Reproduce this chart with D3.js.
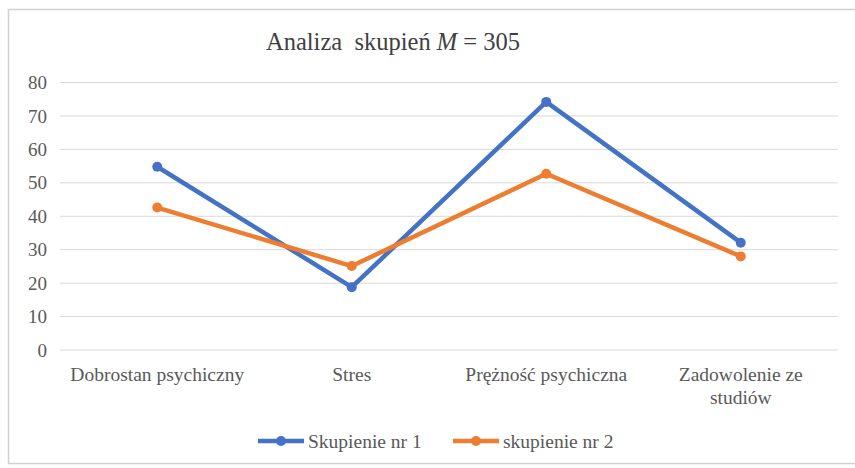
<!DOCTYPE html>
<html>
<head>
<meta charset="utf-8">
<script src="https://cdn.jsdelivr.net/npm/d3@7"></script>
<style>
  html, body { margin: 0; padding: 0; background: #fff; }
  svg { display: block; }
</style>
</head>
<body>
<svg width="855" height="468"></svg>
<script>
// chart data
const categories = ["Dobrostan psychiczny", "Stres", "Prężność psychiczna", "Zadowolenie ze studiów"];
const seriesNames = ["Skupienie nr 1", "skupienie nr 2"];
const cluster1 = [54.8, 18.8, 74.2, 32.1];
const cluster2 = [42.6, 25.1, 52.7, 28.0];
const yTicks = [0, 10, 20, 30, 40, 50, 60, 70, 80];
const colors = ["#4472C4", "#ED7D31"];

const width = 855, height = 468;
const margin = { top: 82.5, right: 17, bottom: 118, left: 60 };
const serif = "Liberation Serif, Times New Roman, serif";

const svg = d3.select("svg").attr("font-family", serif);

// outer frame
svg.append("rect")
  .attr("x", 8.5).attr("y", 9.5)
  .attr("width", 860).attr("height", 454)
  .attr("fill", "#fff")
  .attr("stroke", "#d0d0d0")
  .attr("stroke-width", 1.5);

const x = d3.scaleBand()
  .domain(categories)
  .range([margin.left, width - margin.right]);

const y = d3.scaleLinear()
  .domain([0, 80])
  .range([height - margin.bottom, margin.top]);

// gridlines
svg.append("g")
  .selectAll("line")
  .data(yTicks)
  .join("line")
  .attr("x1", margin.left)
  .attr("x2", width - margin.right)
  .attr("y1", d => y(d))
  .attr("y2", d => y(d))
  .attr("stroke", "#d9d9d9")
  .attr("stroke-width", 1);

// y axis labels
const yAxis = svg.append("g")
  .attr("transform", `translate(${margin.left - 13},0)`)
  .call(d3.axisLeft(y).tickValues(yTicks).tickSize(0).tickPadding(0));
yAxis.attr("font-family", serif).attr("font-size", 19);
yAxis.select(".domain").remove();
yAxis.selectAll("text").attr("fill", "#595959");

// x axis labels (wrapped like the original)
const xAxis = svg.append("g")
  .attr("transform", `translate(0,${height - margin.bottom})`)
  .call(d3.axisBottom(x).tickSize(0).tickPadding(0).tickFormat(""));
xAxis.attr("font-family", serif).attr("font-size", 19.5);
xAxis.select(".domain").remove();
const wraps = { "Zadowolenie ze studiów": ["Zadowolenie ze", "studiów"] };
xAxis.selectAll(".tick").each(function (d) {
  const lines = wraps[d] || [d];
  const t = d3.select(this).append("text")
    .attr("fill", "#595959")
    .attr("text-anchor", "middle");
  lines.forEach((l, i) => {
    t.append("tspan").attr("x", 0).attr("y", 31 + i * 23).text(l);
  });
});

// lines + markers
const allSeries = [cluster1, cluster2];
const line = d3.line()
  .x((d, i) => x(categories[i]) + x.bandwidth() / 2)
  .y(d => y(d));

allSeries.forEach((vals, s) => {
  svg.append("path")
    .datum(vals)
    .attr("fill", "none")
    .attr("stroke", colors[s])
    .attr("stroke-width", 4.5)
    .attr("stroke-linejoin", "round")
    .attr("d", line);
  svg.append("g")
    .selectAll("circle")
    .data(vals)
    .join("circle")
    .attr("cx", (d, i) => x(categories[i]) + x.bandwidth() / 2)
    .attr("cy", d => y(d))
    .attr("r", 5)
    .attr("fill", colors[s]);
});

// title
const title = svg.append("text")
  .attr("x", 393)
  .attr("y", 50)
  .attr("text-anchor", "middle")
  .attr("font-family", serif)
  .attr("font-size", 24.5)
  .attr("fill", "#404040")
  .style("white-space", "pre");
title.append("tspan").text("Analiza  skupień ");
title.append("tspan").attr("font-style", "italic").text("M");
title.append("tspan").text(" = 305");

// legend
const legendX = [258, 453];
const legend = svg.append("g").attr("font-family", serif);
seriesNames.forEach((name, s) => {
  const g = legend.append("g").attr("transform", `translate(${legendX[s]},441)`);
  g.append("line")
    .attr("x1", 0).attr("x2", 46)
    .attr("stroke", colors[s])
    .attr("stroke-width", 4.5);
  g.append("circle")
    .attr("cx", 23).attr("r", 5)
    .attr("fill", colors[s]);
  g.append("text")
    .attr("x", 50).attr("y", 7)
    .attr("font-size", 19.5)
    .attr("fill", "#595959")
    .text(name);
});
</script>
</body>
</html>
